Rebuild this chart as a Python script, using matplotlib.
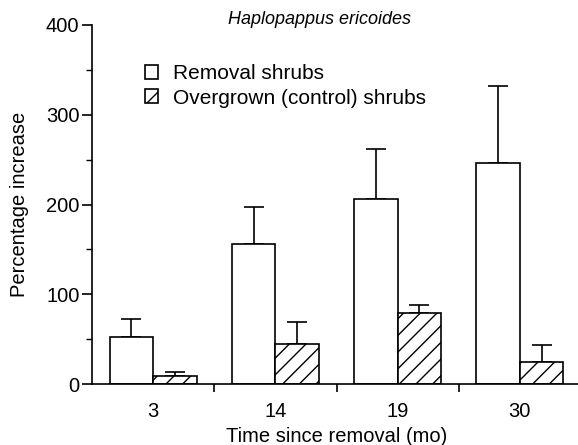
import numpy as np
import matplotlib.pyplot as plt
from matplotlib.ticker import MultipleLocator, FixedLocator

plt.rcParams["font.family"] = ["Liberation Sans", "DejaVu Sans"]
plt.rcParams["hatch.linewidth"] = 1.0

months = ["3", "14", "19", "30"]
removal = [52, 156, 206, 246]
removal_err = [20, 41, 56, 86]
control = [9, 45, 79, 24]
control_err = [4, 24, 9, 20]

x = np.arange(len(months))
w = 0.355

fig = plt.figure(figsize=(5.78, 4.45), dpi=100)
ax = fig.add_axes([92 / 578, 61 / 445, 489 / 578, 359 / 445])

ax.bar(x - w / 2, removal, w, color="white", edgecolor="black", linewidth=1.2,
       label="Removal shrubs", zorder=2)
ax.bar(x + w / 2, control, w, color="white", edgecolor="black", linewidth=1.2,
       hatch="//", label="Overgrown (control) shrubs", zorder=2)
ax.errorbar(x - w / 2, removal, yerr=[np.zeros(4), removal_err], fmt="none",
            ecolor="black", elinewidth=1.2, capsize=7, capthick=1.2, zorder=1)
ax.errorbar(x + w / 2, control, yerr=[np.zeros(4), control_err], fmt="none",
            ecolor="black", elinewidth=1.2, capsize=7, capthick=1.2, zorder=1)

ax.set_xlim(-0.5, 3.5)
ax.set_ylim(0, 400)
ax.set_xticks(x)
ax.set_xticklabels(months)
ax.xaxis.set_minor_locator(FixedLocator([0.5, 1.5, 2.5]))
ax.tick_params(axis="x", which="major", length=0, labelsize=14.5, pad=13)
ax.tick_params(axis="x", which="minor", length=6, width=1.2, direction="out")
ax.yaxis.set_major_locator(MultipleLocator(100))
ax.yaxis.set_minor_locator(MultipleLocator(50))
ax.tick_params(axis="y", which="major", length=7, width=1.2, labelsize=14.5, pad=2)
ax.tick_params(axis="y", which="minor", length=4, width=1.0)

for s in ["top", "right"]:
    ax.spines[s].set_visible(False)
for s in ["left", "bottom"]:
    ax.spines[s].set_linewidth(1.2)

ax.set_xlabel("Time since removal (mo)", fontsize=14.5, labelpad=4)
ax.set_ylabel("Percentage increase", fontsize=14.5, labelpad=12)
fig.text(319 / 578, 1 - 20 / 445, "Haplopappus ericoides",
         ha="center", va="center", fontsize=13, style="italic")

ax.legend(loc="upper left", bbox_to_anchor=(0.108, 0.89), frameon=False,
          fontsize=15, handlelength=0.65, handleheight=0.65, handletextpad=0.7,
          labelspacing=0.25, borderpad=0, borderaxespad=0)

fig.savefig("out.png", dpi=100)
